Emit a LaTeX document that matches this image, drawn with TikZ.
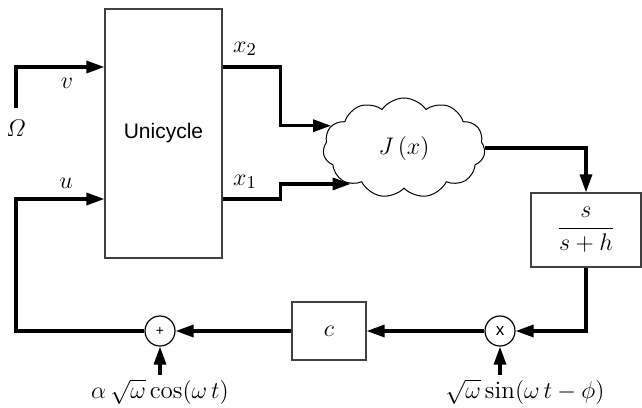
\documentclass[tikz,border=0pt]{standalone}
\usepackage{amsmath}
\usepackage{fontspec}
\setsansfont{Liberation Sans}
\usetikzlibrary{arrows.meta,shapes.symbols,positioning}

\begin{document}
\begin{tikzpicture}[x=0.5pt,y=-0.5pt,>={Triangle[length=9pt,width=6pt]},
    blockbox/.style={draw=black!75,line width=0.6pt,fill=white,inner sep=0pt},
    junction/.style={draw,circle,line width=0.6pt,minimum size=15pt,inner sep=0pt,font=\sffamily\fontsize{8.5}{10}\selectfont},
    sig/.style={->,line width=1.6pt},
    lab/.style={font=\fontsize{12.5}{14}\selectfont}]
    \useasboundingbox (0,0) rectangle (642,407);
    % blocks
    \node[blockbox,minimum width=58.5pt,minimum height=124.5pt,font=\sffamily\fontsize{10.5}{12}\selectfont] (uni) at (163.5,133.5) {Unicycle};
    \node[cloud,draw,line width=0.5pt,cloud puffs=11,cloud puff arc=110,aspect=1.6,minimum width=81pt,minimum height=50pt,inner sep=0pt,lab] (j) at (404,148) {$J\,(x)$};
    \node[blockbox,minimum width=55pt,minimum height=37pt,lab] (hp) at (586,230) {$\dfrac{s}{s+h}$};
    \node[junction] (mul) at (500,331) {x};
    \node[blockbox,minimum width=37pt,minimum height=29pt,lab] (gain) at (329,331) {$c$};
    \node[junction,font=\sffamily\fontsize{7}{8}\selectfont] (add) at (160,331) {+};
    % free ends
    \coordinate (om) at (16,108);
    \coordinate (fb) at (16,331);
    \coordinate (cosin) at (160,375);
    \coordinate (sinin) at (500,375);
    % signals
    \draw[sig] (om) |- (uni.west |- 0,67);
    \draw[sig] (uni.east |- 0,67) -- ++(58,0) |- (j.163);
    \draw[sig] (uni.east |- 0,199) -- ++(58,0) |- (j.214);
    \draw[sig] (j.east) -| (hp.north);
    \draw[sig] (hp.south) |- (mul.east);
    \draw[sig] (mul.west) -- (gain.east);
    \draw[sig] (gain.west) -- (add.east);
    \draw[sig] (add.west) -- (fb) |- (uni.west |- 0,199);
    \draw[sig] (cosin) -- (add.south);
    \draw[sig] (sinin) -- (mul.south);
    % labels
    \node[lab] (lom) at (16,128) {$\varOmega$};
    \node[lab] (lv) at (67,83) {$v$};
    \node[lab] (lu) at (66,183) {$u$};
    \node[lab] (lx2) at (245,49) {$x_2$};
    \node[lab] (lx1) at (245,182) {$x_1$};
    \node[lab] (lcos) at (160,392) {$\alpha\,\sqrt{\omega}\cos(\omega\,t)$};
    \node[lab] (lsin) at (525,392) {$\sqrt{\omega}\sin(\omega\,t-\phi)$};
\end{tikzpicture}
\end{document}
